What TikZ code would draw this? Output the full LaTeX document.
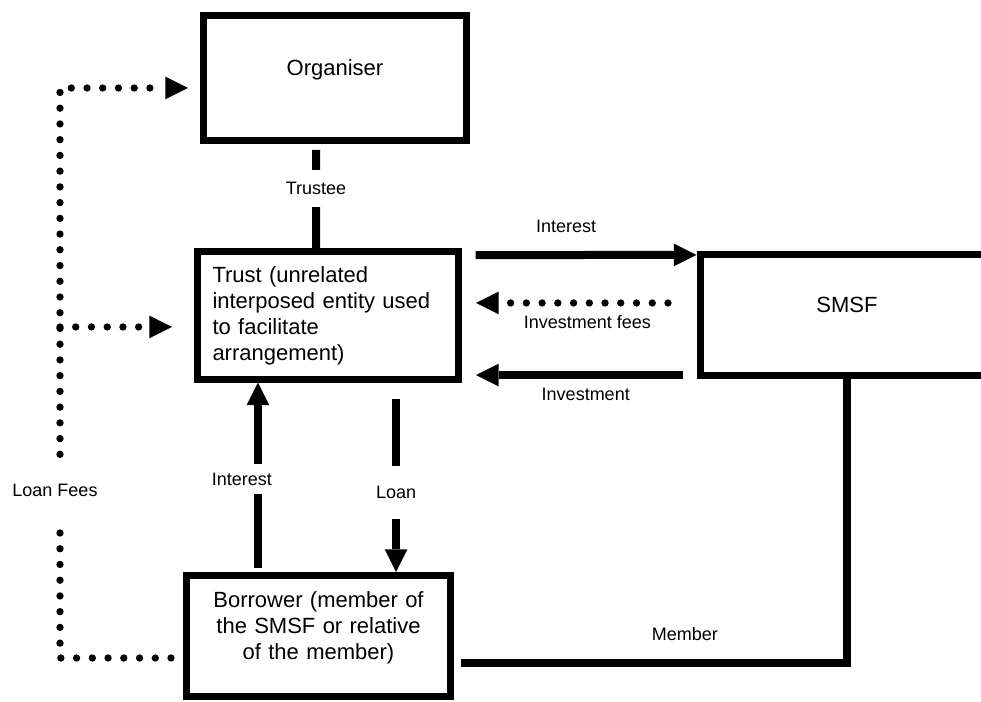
\documentclass[tikz,border=0pt]{standalone}
\usepackage{fontspec}
\setmainfont{Liberation Sans}
\usetikzlibrary{arrows.meta}
\tikzset{
	box/.style={draw, line width=5.25pt, inner sep=0pt, font=\fontsize{16.5}{19.5}\selectfont},
	link/.style={line width=6pt},
	flow/.style={line width=6pt, -{Triangle[length=17pt,width=17pt,line width=0pt]}},
	fees/.style={line width=5.5pt, line cap=round, dash pattern=on 0pt off 11.8pt, -{Triangle[length=17pt,width=17pt,line width=0pt]}},
	tag/.style={font=\fontsize{13.5}{16}\selectfont, inner sep=1pt},
	lbl/.style={tag, fill=white, inner ysep=9pt}
}
\begin{document}
\begin{tikzpicture}[x=0.75pt,y=-0.75pt]
	\useasboundingbox (0,0) rectangle (981,702);
	\node[box, minimum width=197.25pt, minimum height=93.75pt, text depth=15.5pt] (organiser) at (335,78) {Organiser};
	\node[box, minimum width=195.75pt, minimum height=95.25pt, text width=172.5pt, align=left] (trust) at (327.5,315.5) {Trust (unrelated\\interposed entity used\\to facilitate\\arrangement)};
	\node[box, minimum width=220.5pt, minimum height=90pt, text depth=15.5pt] (smsf) at (847,315) {SMSF};
	\node[box, minimum width=198pt, minimum height=90.75pt, text width=185pt, align=center, text depth=54pt] (borrower) at (318.5,636) {Borrower (member of\\the SMSF or relative\\of the member)};
	% organiser - trust
	\draw[link] ([xshift=-14.25pt,yshift=-4.5pt]organiser.south) -- ([xshift=-8.6pt]trust.north) node[lbl, pos=.39] {Trustee};
	% trust - smsf
	\draw[flow] ([xshift=10.5pt,yshift=-4.9pt]trust.north east) -- ([yshift=-2.6pt]smsf.north west) node[tag, pos=.41, yshift=21.75pt] {Interest};
	\draw[fees] ([xshift=-21.4pt,yshift=9pt]smsf.west) -- ([xshift=10.9pt,yshift=9.4pt]trust.east) node[tag, pos=.42, yshift=-14.25pt] {Investment fees};
	\draw[flow] ([xshift=-10.1pt,yshift=2.6pt]smsf.south west) -- ([xshift=10.9pt,yshift=5.6pt]trust.south east) node[tag, pos=.47, yshift=-14.25pt] {Investment};
	% borrower - smsf
	\draw[link] ([xshift=5.25pt,yshift=-20.25pt]borrower.east) -| (smsf.south) node[tag, pos=.29, yshift=21.75pt] {Member};
	% trust - borrower
	\coordinate (intB) at ([xshift=-45.4pt,yshift=3pt]borrower.north);
	\draw[flow] (intB) -- (intB |- trust.south) node[lbl, pos=.48, xshift=-12pt, inner ysep=6.5pt] {Interest};
	\coordinate (loanA) at ([xshift=51.4pt,yshift=-12.4pt]trust.south);
	\draw[flow] (loanA) -- (loanA |- borrower.north) node[lbl, pos=.54, inner ysep=15pt] {Loan};
	% loan fees
	\coordinate (feesA) at ([xshift=-9pt,yshift=-16.5pt]borrower.west);
	\coordinate (feesB) at ([xshift=-9pt,yshift=-7.5pt]organiser.west);
	\coordinate (feesC) at ([xshift=-16.1pt,yshift=-8.6pt]trust.west);
	\draw[fees] (feesA) -- ++(-111,0) coordinate (feesD) |- node[lbl, pos=.147, xshift=-3.75pt, inner ysep=18pt] {Loan Fees} (feesB);
	\draw[fees] (feesD |- feesC) -- (feesC);
\end{tikzpicture}
\end{document}
